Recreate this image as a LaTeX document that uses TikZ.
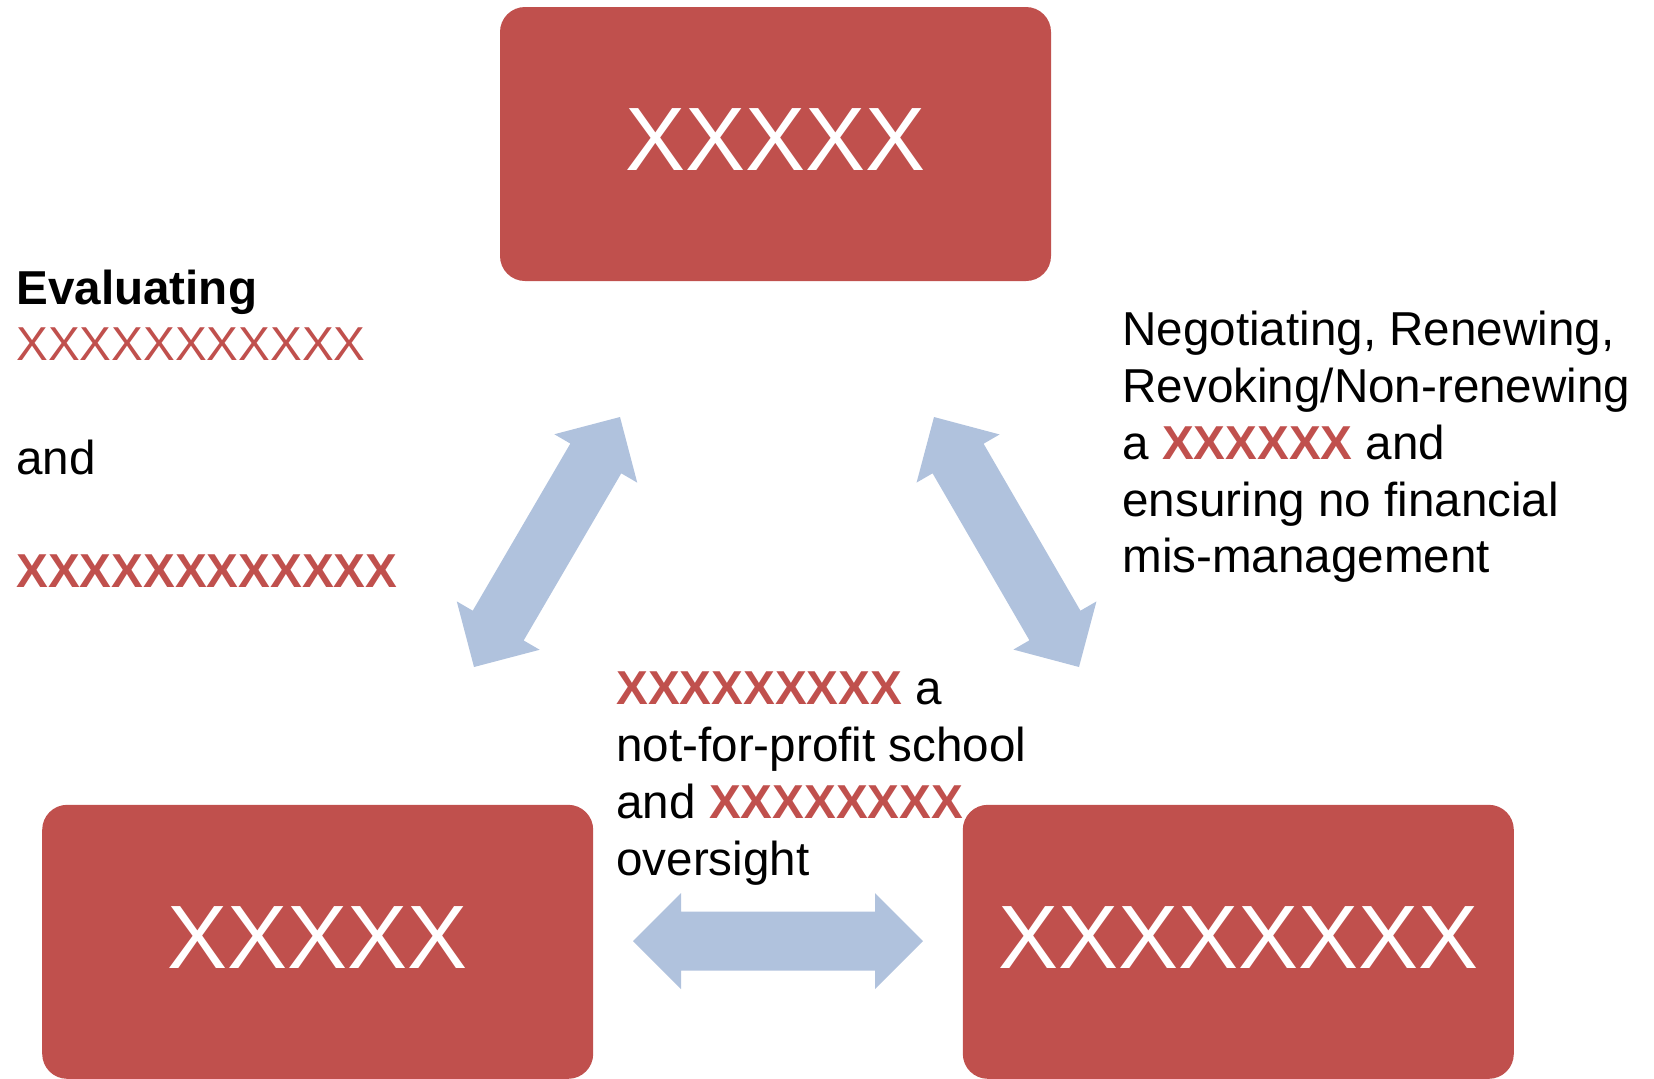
\documentclass[tikz,border=0pt]{standalone}
\usepackage{fontspec}
\setmainfont{Liberation Sans}
\usepackage{xcolor}
\usepackage{tikz}
\usetikzlibrary{positioning, calc}

\definecolor{boxred}{HTML}{C0504D}
\definecolor{arrowblue}{HTML}{B0C2DD}
\newcommand{\hilite}[1]{\textcolor{boxred}{#1}}

\begin{document}
\begin{tikzpicture}[
    x=0.5pt, y=-0.5pt,
    node distance=261.5pt and -47pt,
    box/.style={fill=boxred, rounded corners=12.5pt, minimum width=275.5pt, minimum height=137pt, inner sep=0pt, text=white, text depth=4.75pt, font=\fontsize{45pt}{54pt}\selectfont},
    txt/.style={anchor=base west, align=left, inner sep=0pt, font=\fontsize{23.8pt}{28.35pt}\selectfont},
    blockarrow/.style={fill=arrowblue}
]
\useasboundingbox (0,0) rectangle (1654,1078);

\node[box] (topbox) at (775.5,144) {XXXXX};
\node[box, below left=of topbox] (leftbox) {XXXXX};
\node[box, below right=261.5pt and -44.5pt of topbox] (rightbox) {XXXXXXXX};

\coordinate (lA) at (474,667);
\coordinate (lB) at (620,417);
\coordinate (rA) at (934,417);
\coordinate (rB) at (1079,667);
\coordinate (hA) at (633,941);
\coordinate (hB) at (923,941);

% double block arrows
\foreach \ta/\tb in {lA/lB, rA/rB, hA/hB}
  \fill[blockarrow] let \p1=($(\tb)-(\ta)$), \n1={atan2(\y1,\x1)} in
    (\ta) -- ($(\ta)+(\n1:24pt)+(\n1+90:24pt)$) -- ($(\ta)+(\n1:24pt)+(\n1+90:14.75pt)$)
    -- ($(\tb)+(\n1+180:24pt)+(\n1+90:14.75pt)$) -- ($(\tb)+(\n1+180:24pt)+(\n1+90:24pt)$)
    -- (\tb) -- ($(\tb)+(\n1+180:24pt)+(\n1-90:24pt)$) -- ($(\tb)+(\n1+180:24pt)+(\n1-90:14.75pt)$)
    -- ($(\ta)+(\n1:24pt)+(\n1-90:14.75pt)$) -- ($(\ta)+(\n1:24pt)+(\n1-90:24pt)$) -- cycle;

% text nodes sit on the baseline of their last line
\node[txt] (evaltext) at (16,587.7) {\textbf{Evaluating}\\\hilite{XXXXXXXXXXX}\\[28.35pt]and\\[28.35pt]\hilite{\bfseries XXXXXXXXXXXX}};
\node[txt] (renewtext) at (1122,572.7) {Negotiating, Renewing,\\Revoking/Non-renewing\\a \hilite{\bfseries XXXXXX} and\\ensuring no financial\\mis-management};
\node[txt] (schooltext) at (616,875) {\hilite{\bfseries XXXXXXXXX} a\\not-for-profit school\\and \hilite{\bfseries XXXXXXXX}\\oversight};
\end{tikzpicture}
\end{document}
